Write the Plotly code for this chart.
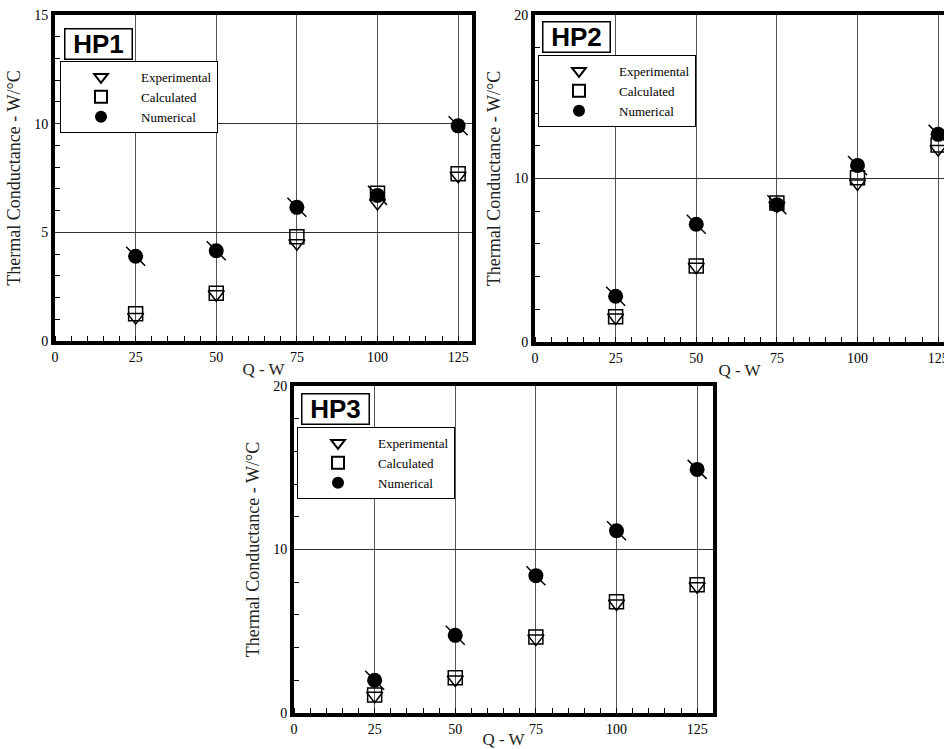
import plotly.graph_objects as go

# Heat input (W)
Q = [25, 50, 75, 100, 125]

# Thermal conductance (W/°C) for each heat pipe
hp1_exp = [1.1, 2.15, 4.5, 6.35, 7.6]
hp1_calc = [1.25, 2.2, 4.8, 6.8, 7.7]
hp1_num = [3.9, 4.15, 6.15, 6.7, 9.9]

hp2_exp = [1.5, 4.6, 8.35, 9.7, 11.8]
hp2_calc = [1.55, 4.65, 8.5, 10.05, 12.05]
hp2_num = [2.8, 7.2, 8.4, 10.8, 12.7]

hp3_exp = [1.05, 2.05, 4.55, 6.7, 7.75]
hp3_calc = [1.1, 2.15, 4.65, 6.8, 7.85]
hp3_num = [2.0, 4.75, 8.4, 11.15, 14.9]

x_ticks = [0, 25, 50, 75, 100, 125]

panels = [
    dict(name="HP1", exp=hp1_exp, calc=hp1_calc, num=hp1_num, ymax=15, ydtick=5, yminor=1),
    dict(name="HP2", exp=hp2_exp, calc=hp2_calc, num=hp2_num, ymax=20, ydtick=10, yminor=2),
    dict(name="HP3", exp=hp3_exp, calc=hp3_calc, num=hp3_num, ymax=20, ydtick=10, yminor=2),
]

W, H = 944, 749
SERIF = "Liberation Serif"
SANS = "Liberation Sans"

# panel rectangles in pixels: left, right, top, bottom
boxes = [(55, 472, 15, 341), (535, 944, 15, 342), (294, 713, 386, 713)]
legend_pos = [(60, 61), (538, 55), (297, 427)]
label_pos = [(64, 28), (542, 21), (301, 393)]
PX_PER_UNIT = 3.225

fig = go.Figure()
layout = dict(
    width=W, height=H, margin=dict(l=0, r=0, t=0, b=0, autoexpand=False),
    paper_bgcolor="white", plot_bgcolor="white",
    showlegend=True, annotations=[],
)

for i, p in enumerate(panels):
    k = "" if i == 0 else str(i + 1)
    xa, ya = "x" + k, "y" + k
    lg = "legend" + k
    l, r, t, b = boxes[i]
    xmax = (r - l) / PX_PER_UNIT

    fig.add_trace(go.Scatter(
        x=Q, y=p["exp"], xaxis=xa, yaxis=ya, mode="markers", name="Experimental",
        legend=lg, cliponaxis=False,
        marker=dict(symbol="triangle-down-open", size=14, color="black", line=dict(width=1.5, color="black")),
    ))
    fig.add_trace(go.Scatter(
        x=Q, y=p["calc"], xaxis=xa, yaxis=ya, mode="markers", name="Calculated",
        legend=lg, cliponaxis=False,
        marker=dict(symbol="square-open", size=14, color="black", line=dict(width=1.5, color="black")),
    ))
    fig.add_trace(go.Scatter(
        x=Q, y=p["num"], xaxis=xa, yaxis=ya, mode="markers", name="Numerical",
        legend=lg, cliponaxis=False,
        marker=dict(symbol="circle", size=15, color="black", line=dict(width=0)),
    ))
    # diagonal stroke through the numerical symbols
    fig.add_trace(go.Scatter(
        x=Q, y=p["num"], xaxis=xa, yaxis=ya, mode="markers", showlegend=False,
        cliponaxis=False, hoverinfo="skip",
        marker=dict(symbol="line-nw", size=19, color="black", line=dict(width=1.5, color="black")),
    ))

    layout["xaxis" + k] = dict(
        domain=[l / W, min(r / W, 1.0)], anchor=ya, range=[0, xmax],
        tickmode="array", tickvals=x_ticks, automargin=False,
        showgrid=True, gridcolor="#555", gridwidth=1,
        showline=True, linecolor="black", linewidth=4, mirror=True,
        ticks="", zeroline=False, ticklabeloverflow="allow",
        minor=dict(dtick=5, ticks="inside", ticklen=5, tickcolor="black", tickwidth=1, showgrid=False),
        tickfont=dict(family=SERIF, size=14, color="black"),
        title=dict(text="Q - W", font=dict(family=SERIF, size=17, color="#222"), standoff=0),
    )
    layout["yaxis" + k] = dict(
        domain=[1 - b / H, 1 - t / H], anchor=xa, range=[0, p["ymax"]],
        dtick=p["ydtick"], tick0=0, automargin=False,
        showgrid=True, gridcolor="#333", gridwidth=1,
        showline=True, linecolor="black", linewidth=4, mirror=(i != 1),
        ticks="", zeroline=False,
        minor=dict(dtick=p["yminor"], ticks="inside", ticklen=5, tickcolor="black", tickwidth=1, showgrid=False),
        tickfont=dict(family=SERIF, size=14, color="black"),
        title=dict(text="Thermal Conductance - W/°C", font=dict(family=SERIF, size=18, color="#222"), standoff=10),
    )

    lx, ly = legend_pos[i]
    layout[lg] = dict(
        x=lx / W, y=1 - ly / H, xanchor="left", yanchor="top",
        bordercolor="black", borderwidth=1, bgcolor="white",
        font=dict(family=SERIF, size=13, color="black"),
        itemwidth=70, tracegroupgap=0, itemsizing="constant",
    )

    ax, ay = label_pos[i]
    layout["annotations"].append(dict(
        text="<b>" + p["name"] + "</b>", xref="paper", yref="paper",
        x=ax / W, y=1 - ay / H, xanchor="left", yanchor="top", showarrow=False,
        font=dict(family=SANS, size=26, color="black"), width=64, height=27, align="center",
        bordercolor="black", borderwidth=1.5, bgcolor="white", borderpad=1,
    ))

fig.update_layout(**layout)
fig.write_html("out.html")
